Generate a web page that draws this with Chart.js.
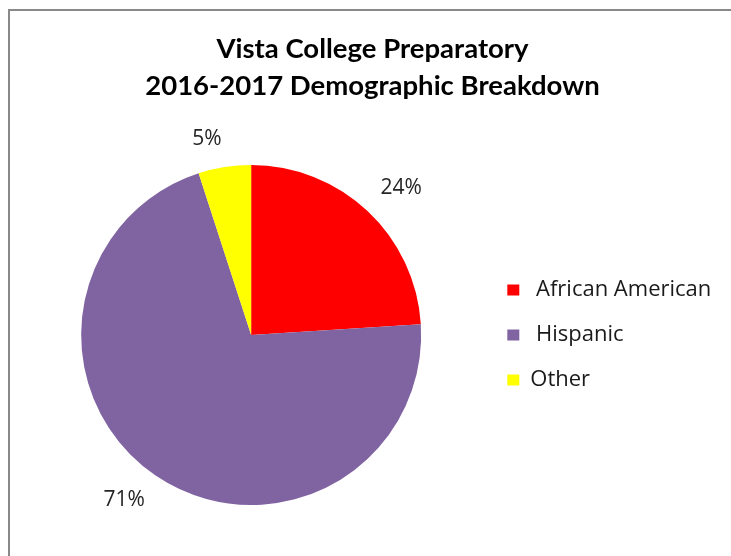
<!DOCTYPE html>
<html>
<head>
<meta charset="utf-8">
<script src="https://cdn.jsdelivr.net/npm/chart.js@4"></script>
<style>
  html, body { margin: 0; padding: 0; background: #fff; overflow: hidden; }
  #frame { position: absolute; left: 8px; top: 9px; width: 800px; height: 600px; border-left: 2px solid #898989; border-top: 2px solid #898989; }
  #wrap { position: absolute; left: 0; top: 0; width: 731px; height: 556px; }
</style>
</head>
<body>
<div id="frame"></div>
<div id="wrap"><canvas id="pie"></canvas></div>
<script>
const titleLines = ['Vista College Preparatory', '2016-2017 Demographic Breakdown'];
const categories = [' African American ', ' Hispanic', 'Other'];
const shares = [24, 71, 5];
const colors = ['#ff0000', '#8064a2', '#ffff00'];

// percentage labels outside the rim: the label corner nearest the pie sits
// on the slice's middle ray, a little way past the edge
const outsideLabels = {
  id: 'outsideLabels',
  afterDatasetsDraw(chart) {
    const ctx = chart.ctx;
    const arcs = chart.getDatasetMeta(0).data;
    ctx.save();
    ctx.font = '21px "Open Sans"';
    ctx.fillStyle = '#262626';
    ctx.textAlign = 'center';
    ctx.textBaseline = 'middle';
    arcs.forEach((arc, i) => {
      const { x, y, startAngle, endAngle, outerRadius } = arc.getProps(['x', 'y', 'startAngle', 'endAngle', 'outerRadius'], true);
      const mid = (startAngle + endAngle) / 2;
      const dx = Math.cos(mid), dy = Math.sin(mid);
      const text = shares[i] + '%';
      const w = ctx.measureText(text).width;
      const d = outerRadius + 19;
      const lx = x + dx * d + Math.sign(dx) * w / 2;
      const ly = y + dy * d + Math.sign(dy) * 9;
      ctx.fillText(text, lx, ly);
    });
    ctx.restore();
  }
};

new Chart(document.getElementById('pie'), {
  type: 'pie',
  data: {
    labels: categories,
    datasets: [{ data: shares, backgroundColor: colors, borderWidth: 0 }],
  },
  options: {
    responsive: true,
    maintainAspectRatio: false,
    animation: false,
    devicePixelRatio: 1,
    layout: { padding: { left: 18, right: 4, top: 0, bottom: 51 } },
    plugins: {
      title: {
        display: true,
        text: titleLines,
        color: '#000',
        font: { family: 'Lato', size: 27.5, weight: 'bold', lineHeight: '37px' },
        padding: { top: 31, bottom: 60 },
      },
      legend: {
        position: 'right',
        fullSize: false,
        labels: {
          color: '#1a1a1a',
          font: { family: "'Open Sans'", size: 22 },
          boxWidth: 12,
          boxHeight: 11,
          padding: 23,
        },
      },
      tooltip: { enabled: false },
    },
  },
  plugins: [outsideLabels],
});
</script>
</body>
</html>
